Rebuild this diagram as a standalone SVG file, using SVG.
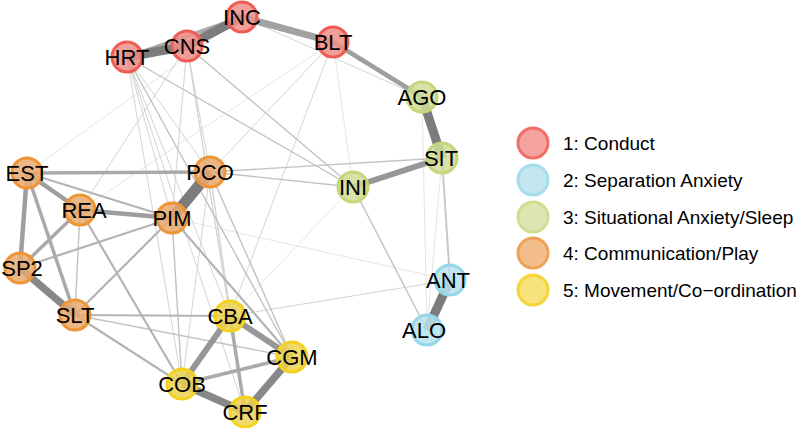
<svg xmlns="http://www.w3.org/2000/svg" width="796" height="428" viewBox="0 0 796 428">
<style>
text{font-family:"Liberation Sans",Arial,sans-serif;fill:#000}
.lbl{font-size:22px;text-anchor:middle}
.leg{font-size:19px}
line{stroke-linecap:butt}
.n1{fill:#F08E88;fill-opacity:.85;stroke:#EE5D53;stroke-width:3}
.n2{fill:#B8E3EE;fill-opacity:.85;stroke:#94D7E9;stroke-width:3}
.n3{fill:#D0DD96;fill-opacity:.85;stroke:#C4D77A;stroke-width:3}
.n4{fill:#E9AA6E;fill-opacity:.85;stroke:#EE9636;stroke-width:3}
.n5{fill:#EDD24E;fill-opacity:.85;stroke:#F4D11F;stroke-width:3}
.l1{fill:#F4A3A0;stroke:#F07068;stroke-width:3}
.l2{fill:#C2E7F1;stroke:#A6DDEC;stroke-width:3}
.l3{fill:#DDE5B2;stroke:#D0DE90;stroke-width:3}
.l4{fill:#F3BE8C;stroke:#EFA35A;stroke-width:3}
.l5{fill:#F8E27C;stroke:#F5D53A;stroke-width:3}
</style>
<rect width="796" height="428" fill="#fff"/>
<g id="edges" fill="none">
<g stroke="#e2e2e2" stroke-width="0.9">
<line x1="422" y1="97" x2="427" y2="330"/>
<line x1="442" y1="158" x2="427" y2="330"/>
<line x1="172" y1="218" x2="450" y2="280"/>
<line x1="333" y1="42" x2="80" y2="210"/>
<line x1="242" y1="17" x2="27" y2="173"/>
<line x1="353" y1="187" x2="230" y2="316"/>
<line x1="333" y1="42" x2="353" y2="187"/>
</g>
<g stroke="#d4d4d4" stroke-width="1">
<line x1="230" y1="316" x2="450" y2="280"/>
<line x1="127" y1="57" x2="172" y2="218"/>
<line x1="127" y1="57" x2="182" y2="384"/>
<line x1="127" y1="57" x2="230" y2="316"/>
<line x1="127" y1="57" x2="245" y2="412"/>
<line x1="127" y1="57" x2="210" y2="172"/>
<line x1="187" y1="46" x2="80" y2="210"/>
<line x1="187" y1="46" x2="172" y2="218"/>
<line x1="187" y1="46" x2="210" y2="172"/>
<line x1="187" y1="46" x2="230" y2="316"/>
<line x1="187" y1="46" x2="245" y2="412"/>
<line x1="333" y1="42" x2="210" y2="172"/>
<line x1="333" y1="42" x2="230" y2="316"/>
<line x1="242" y1="17" x2="422" y2="97"/>
<line x1="210" y1="172" x2="230" y2="316"/>
<line x1="210" y1="172" x2="182" y2="384"/>
<line x1="210" y1="172" x2="245" y2="412"/>
</g>
<g stroke="#c2c2c2" stroke-width="1.4">
<line x1="127" y1="57" x2="292" y2="357"/>
<line x1="127" y1="57" x2="353" y2="187"/>
<line x1="187" y1="46" x2="353" y2="187"/>
<line x1="210" y1="172" x2="292" y2="357"/>
<line x1="210" y1="172" x2="442" y2="158"/>
<line x1="210" y1="172" x2="353" y2="187"/>
<line x1="353" y1="187" x2="427" y2="330"/>
<line x1="80" y1="210" x2="75" y2="315"/>
<line x1="75" y1="315" x2="292" y2="357"/>
<line x1="172" y1="218" x2="182" y2="384"/>
<line x1="442" y1="158" x2="450" y2="280" stroke="#c8c8c8" stroke-width="2"/>
</g>
<g stroke="#b4b4b4" stroke-width="2.2">
<line x1="27" y1="173" x2="172" y2="218"/>
<line x1="75" y1="315" x2="182" y2="384"/>
<line x1="80" y1="210" x2="182" y2="384"/>
<line x1="172" y1="218" x2="292" y2="357"/>
<line x1="172" y1="218" x2="75" y2="315"/>
<line x1="75" y1="315" x2="230" y2="316"/>
<line x1="20" y1="268" x2="172" y2="218"/>
</g>
<g stroke="#aaaaaa" stroke-width="3.5">
<line x1="127" y1="57" x2="242" y2="17"/>
<line x1="27" y1="173" x2="75" y2="315"/>
<line x1="27" y1="173" x2="210" y2="172"/>
<line x1="80" y1="210" x2="20" y2="268"/>
<line x1="230" y1="316" x2="245" y2="412"/>
<line x1="182" y1="384" x2="292" y2="357"/>
</g>
<g stroke="#9e9e9e" stroke-width="4.5">
<line x1="27" y1="173" x2="20" y2="268"/>
<line x1="27" y1="173" x2="80" y2="210"/>
<line x1="80" y1="210" x2="172" y2="218"/>
<line x1="333" y1="42" x2="422" y2="97"/>
</g>
<g stroke="#979797" stroke-width="6">
<line x1="242" y1="17" x2="333" y2="42" stroke="#a2a2a2" stroke-width="7"/>
<line x1="230" y1="316" x2="182" y2="384"/>
<line x1="230" y1="316" x2="292" y2="357"/>
<line x1="442" y1="158" x2="353" y2="187"/>
</g>
<g stroke="#888888" stroke-width="7.5">
<line x1="20" y1="268" x2="75" y2="315"/>
<line x1="182" y1="384" x2="245" y2="412"/>
<line x1="292" y1="357" x2="245" y2="412"/>
</g>
<g stroke="#7c7c7c" stroke-width="9">
<line x1="127" y1="57" x2="187" y2="46"/>
<line x1="187" y1="46" x2="242" y2="17"/>
<line x1="422" y1="97" x2="442" y2="158"/>
<line x1="450" y1="280" x2="427" y2="330"/>
<line x1="210" y1="172" x2="172" y2="218" stroke-width="11"/>
</g>
</g>
<g id="node-HRT"><circle class="n1" cx="127" cy="57" r="15"/><text class="lbl" x="127" y="65">HRT</text></g>
<g id="node-CNS"><circle class="n1" cx="187" cy="46" r="15"/><text class="lbl" x="187" y="54">CNS</text></g>
<g id="node-INC"><circle class="n1" cx="242" cy="17" r="15"/><text class="lbl" x="242" y="25">INC</text></g>
<g id="node-BLT"><circle class="n1" cx="333" cy="42" r="15"/><text class="lbl" x="333" y="50">BLT</text></g>
<g id="node-AGO"><circle class="n3" cx="422" cy="97" r="15"/><text class="lbl" x="422" y="105">AGO</text></g>
<g id="node-SIT"><circle class="n3" cx="442" cy="158" r="15"/><text class="lbl" x="441" y="166">SIT</text></g>
<g id="node-INI"><circle class="n3" cx="353" cy="187" r="15"/><text class="lbl" x="353" y="195">INI</text></g>
<g id="node-ANT"><circle class="n2" cx="450" cy="280" r="15"/><text class="lbl" x="448" y="288">ANT</text></g>
<g id="node-ALO"><circle class="n2" cx="427" cy="330" r="15"/><text class="lbl" x="424" y="338">ALO</text></g>
<g id="node-EST"><circle class="n4" cx="27" cy="173" r="15"/><text class="lbl" x="27" y="181">EST</text></g>
<g id="node-PCO"><circle class="n4" cx="210" cy="172" r="15"/><text class="lbl" x="210" y="180">PCO</text></g>
<g id="node-REA"><circle class="n4" cx="80" cy="210" r="15"/><text class="lbl" x="84" y="218">REA</text></g>
<g id="node-PIM"><circle class="n4" cx="172" cy="218" r="15"/><text class="lbl" x="172" y="226">PIM</text></g>
<g id="node-SP2"><circle class="n4" cx="20" cy="268" r="15"/><text class="lbl" x="22" y="276">SP2</text></g>
<g id="node-SLT"><circle class="n4" cx="75" cy="315" r="15"/><text class="lbl" x="75" y="323">SLT</text></g>
<g id="node-CBA"><circle class="n5" cx="230" cy="316" r="15"/><text class="lbl" x="230" y="324">CBA</text></g>
<g id="node-CGM"><circle class="n5" cx="292" cy="357" r="15"/><text class="lbl" x="292" y="365">CGM</text></g>
<g id="node-COB"><circle class="n5" cx="182" cy="384" r="15"/><text class="lbl" x="182" y="392">COB</text></g>
<g id="node-CRF"><circle class="n5" cx="245" cy="412" r="15"/><text class="lbl" x="245" y="420">CRF</text></g>
<g id="legend">
<circle class="l1" cx="533" cy="143" r="15"/><text class="leg" x="563" y="150">1: Conduct</text>
<circle class="l2" cx="533" cy="180" r="15"/><text class="leg" x="563" y="187">2: Separation Anxiety</text>
<circle class="l3" cx="533" cy="217" r="15"/><text class="leg" x="563" y="224">3: Situational Anxiety/Sleep</text>
<circle class="l4" cx="533" cy="253" r="15"/><text class="leg" x="563" y="260">4: Communication/Play</text>
<circle class="l5" cx="533" cy="290" r="15"/><text class="leg" x="563" y="297">5: Movement/Co−ordination</text>
</g>
</svg>
